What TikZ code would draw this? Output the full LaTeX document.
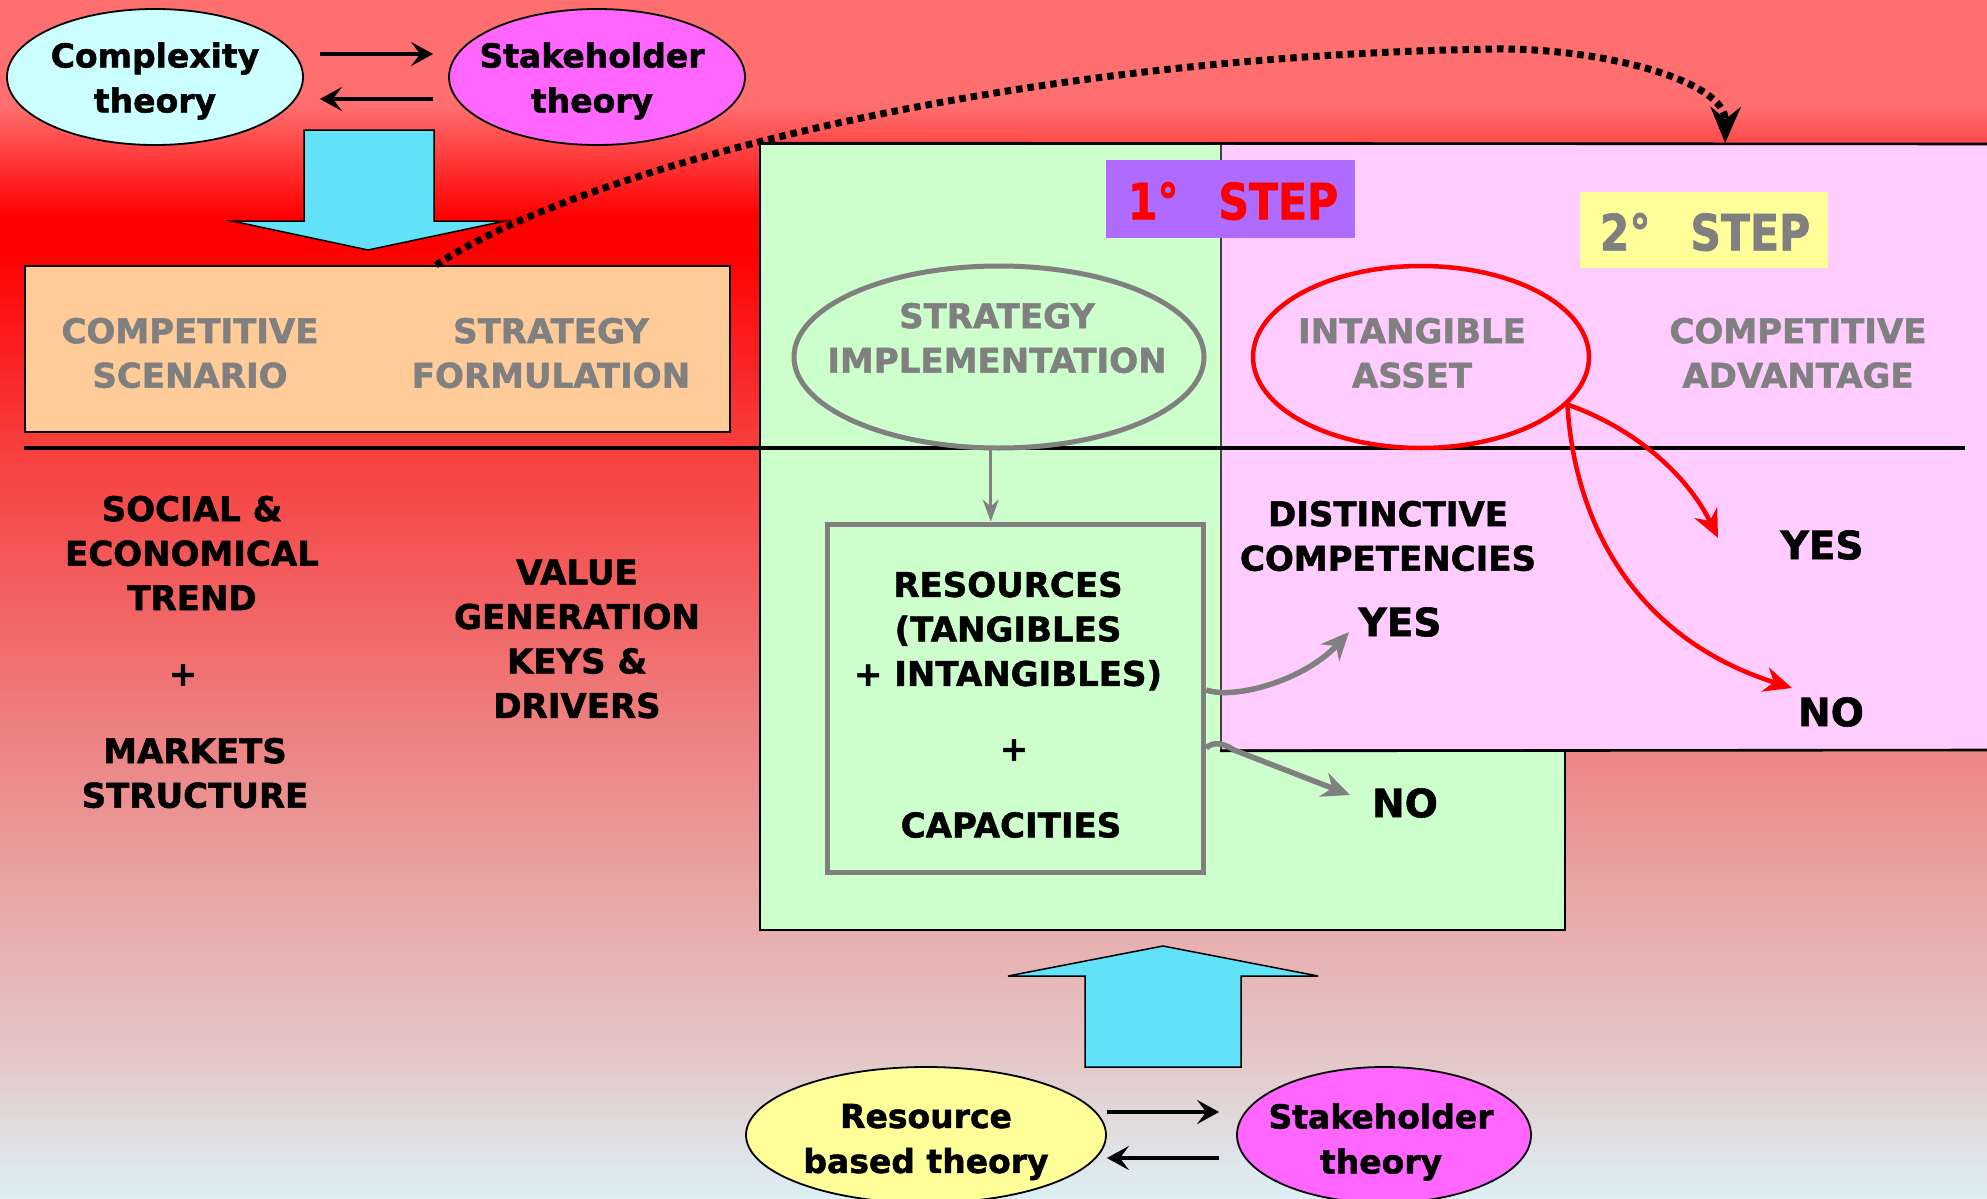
\documentclass[tikz,border=0pt]{standalone}
\usepackage{fontspec}
\setmainfont{DejaVu Sans}[BoldFeatures={FakeBold=1.5}]
\usetikzlibrary{arrows.meta,shapes.geometric,calc}

\definecolor{bgsalmon}{HTML}{FF6F6F}
\definecolor{bgred}{HTML}{FF0000}
\definecolor{bgmid}{HTML}{F83A3A}
\definecolor{bgpink}{HTML}{E8A8A8}
\definecolor{bgrose}{HTML}{E4C8C8}
\definecolor{bgice}{HTML}{DCF0F5}
\definecolor{cyanfill}{HTML}{CCFFFF}
\definecolor{magfill}{HTML}{FF66FF}
\definecolor{yelfill}{HTML}{FFFF99}
\definecolor{blockblue}{HTML}{61E2F9}
\definecolor{peach}{HTML}{FFCC99}
\definecolor{mint}{HTML}{CCFFCC}
\definecolor{lilac}{HTML}{FFCCFF}
\definecolor{violet}{HTML}{AF6AFF}
\definecolor{txtgrey}{HTML}{808080}

\tikzset{
  txt/.style={font=\fontsize{34}{44.5}\selectfont\bfseries, align=center, inner sep=0pt},
  grytxt/.style={txt, text=txtgrey},
  thy/.style={font=\fontsize{33}{45}\selectfont\bfseries, align=center, inner sep=0pt},
  yn/.style={font=\fontsize{39}{45}\selectfont\bfseries, inner sep=0pt},
  steptxt/.style={font=\fontsize{50}{50}\selectfont\bfseries, inner sep=0pt},
  theory/.style={ellipse, draw=black, line width=1.8pt, inner sep=0pt},
  panel/.style={rectangle, inner sep=0pt, line width=1.8pt},
  link/.style={line width=4.5pt, -{Stealth[length=22pt,width=24pt,inset=9pt]}},
  greylink/.style={draw=txtgrey, line width=5.5pt, -{Stealth[length=28pt,width=25pt,inset=9pt]}},
  redlink/.style={draw=red, line width=4.5pt, -{Stealth[length=28pt,width=25pt,inset=9pt]}},
  block/.style={fill=blockblue, draw=black, line width=1.5pt, line join=miter},
}

\begin{document}
\begin{tikzpicture}[x=1pt,y=-1pt]
\useasboundingbox (0,0) rectangle (1987,1199);

% background: vertical colour bands
\fill[bgsalmon] (0,0) rectangle (1987,106);
\shade[top color=bgsalmon,bottom color=bgred] (0,105) rectangle (1987,216);
\fill[bgred] (0,215) rectangle (1987,251);
\shade[top color=bgred,bottom color=bgmid] (0,250) rectangle (1987,431);
\shade[top color=bgmid,bottom color=bgpink] (0,430) rectangle (1987,901);
\shade[top color=bgpink,bottom color=bgrose] (0,900) rectangle (1987,1061);
\shade[top color=bgrose,bottom color=bgice] (0,1060) rectangle (1987,1199);

% top theories
\node[theory, fill=cyanfill, minimum width=296pt, minimum height=136pt] (cplx) at (155,77) {};
\node[theory, fill=magfill, minimum width=296pt, minimum height=136pt] (stk1) at (597,77) {};
\node[thy] (cplxt) at (155,81) {Complexity\\theory};
\node[thy] (stk1t) at (592,81) {Stakeholder\\theory};
\draw[link] ($(cplx.east)+(16,-23)$) -- ($(stk1.west)+(-15,-23)$);
\draw[link] ($(stk1.west)+(-15,22)$) -- ($(cplx.east)+(16,22)$);

% block arrow pointing down
\draw[block] (304,130) -- (434,130) -- (434,221) -- (505,221) -- (368,250)
  -- (232,221) -- (304,221) -- cycle;

% formulation box
\node[panel, draw=black, fill=peach, minimum width=705pt, minimum height=166pt] (scen) at (377.5,349) {};
\node[grytxt] (scent) at (190,353) {COMPETITIVE\\SCENARIO};
\node[grytxt] (formt) at (551,353) {STRATEGY\\FORMULATION};

% implementation and intangible panels
\node[panel, draw=black, fill=mint, minimum width=805pt, minimum height=786pt] (green) at (1162.5,537) {};
\node[panel, draw=black!75, fill=lilac, minimum width=790pt, minimum height=606pt] (pink) at (1616,447) {};
\draw[line width=2.6pt] (green.north west) -- (1987,144);
\draw[line width=2.6pt] (pink.south west) -- (1987,750);

% step labels
\node[panel, fill=violet, minimum width=249pt, minimum height=78pt] (step1) at (1230.5,199) {};
\node[steptxt, text=red] (step1t) at (1233,201)
  {\scalebox{0.85}[1]{1°\ \ \hspace{12pt}STEP}};
\node[panel, fill=yelfill, minimum width=248pt, minimum height=76pt] (step2) at (1704,230) {};
\node[steptxt, text=txtgrey] (step2t) at (1705,232)
  {\scalebox{0.85}[1]{2°\ \ \hspace{12pt}STEP}};

% divider
\draw[line width=3.5pt] (24,448) -- (1965,448);

% ellipses in the panels
\node[ellipse, draw=txtgrey, line width=5pt, minimum width=410pt, minimum height=182pt, inner sep=0pt] (strat) at (999,357) {};
\node[grytxt] (stratt) at (997,338) {STRATEGY\\IMPLEMENTATION};
\node[ellipse, draw=red, line width=4.5pt, minimum width=336pt, minimum height=182pt, inner sep=0pt] (intg) at (1421,357) {};
\node[grytxt] (intgt) at (1412,353) {INTANGIBLE\\ASSET};
\node[grytxt] (advt) at (1798,353) {COMPETITIVE\\ADVANTAGE};

% resources box
\node[panel, draw=txtgrey, line width=5pt, minimum width=376pt, minimum height=348pt] (res) at (1015.75,698) {};
\node[txt] (rest) at (1008,631) {RESOURCES\\(TANGIBLES\\+ INTANGIBLES)};
\node[txt] (resplus) at (1014,750) {+};
\node[txt] (capt) at (1011,825) {CAPACITIES};

% left column texts
\node[txt] (soc) at (192,553) {SOCIAL \&\\ECONOMICAL\\TREND};
\node[txt] (socplus) at (183,675) {+};
\node[txt] (mkt) at (195,773) {MARKETS\\STRUCTURE};
\node[txt] (val) at (577,639) {VALUE\\GENERATION\\KEYS \&\\DRIVERS};

% outcomes
\node[txt] (dist) at (1388,536) {DISTINCTIVE\\COMPETENCIES};
\node[yn] (yes1) at (1400,622) {YES};
\node[yn] (no1) at (1405,803) {NO};
\node[yn] (yes2) at (1822,545) {YES};
\node[yn] (no2) at (1831,712) {NO};

\coordinate (g1) at (1349,632);
\coordinate (g2) at (1350,795);
\coordinate (r1) at (1718,538);
\coordinate (r2) at (1792,688);

% connectors
\draw[draw=txtgrey, line width=2.8pt, -{Stealth[length=22pt,width=16pt,inset=7pt]}]
  ($(res.north)+(-25,-76)$) -- ($(res.north)+(-25,0)$);
\draw[greylink] ($(res.east)+(0,-8)$) .. controls (1235,700) and (1305,680) .. (g1);
\draw[greylink] ($(res.east)+(0,50)$) .. controls (1212,742) and (1222,742) .. (1234,750) -- (g2);
\draw[redlink] (intg.-18) .. controls (1640,430) and (1690,480) .. (r1);
\draw[redlink] (intg.-18) .. controls (1575,530) and (1640,640) .. (r2);

% dotted link from formulation to the second step
\draw[line width=7pt, dash pattern=on 6.5pt off 5pt, -{Stealth[length=36pt,width=30pt,inset=12pt]}]
  ($(scen.north)+(58.5,0)$) .. controls (575,172) and (996,56) .. (1496,49)
  .. controls (1600,48) and (1726,80) .. ($(pink.north west)+(505,0)$);

% block arrow pointing up
\draw[block] (1085,1067) -- (1241,1067) -- (1241,976) -- (1318,976) -- (1163,946)
  -- (1008,976) -- (1085,976) -- cycle;

% bottom theories
\node[theory, fill=yelfill, minimum width=360pt, minimum height=136pt] (rbt) at (926,1135) {};
\node[theory, fill=magfill, minimum width=294pt, minimum height=136pt] (stk2) at (1384,1135) {};
\node[thy] (rbtt) at (926,1142) {Resource\\based theory};
\node[thy] (stk2t) at (1381,1142) {Stakeholder\\theory};
\draw[link] ($(rbt.east)+(0,-23)$) -- ($(stk2.west)+(-17,-23)$);
\draw[link] ($(stk2.west)+(-17,23)$) -- ($(rbt.east)+(0,23)$);
\end{tikzpicture}
\end{document}
